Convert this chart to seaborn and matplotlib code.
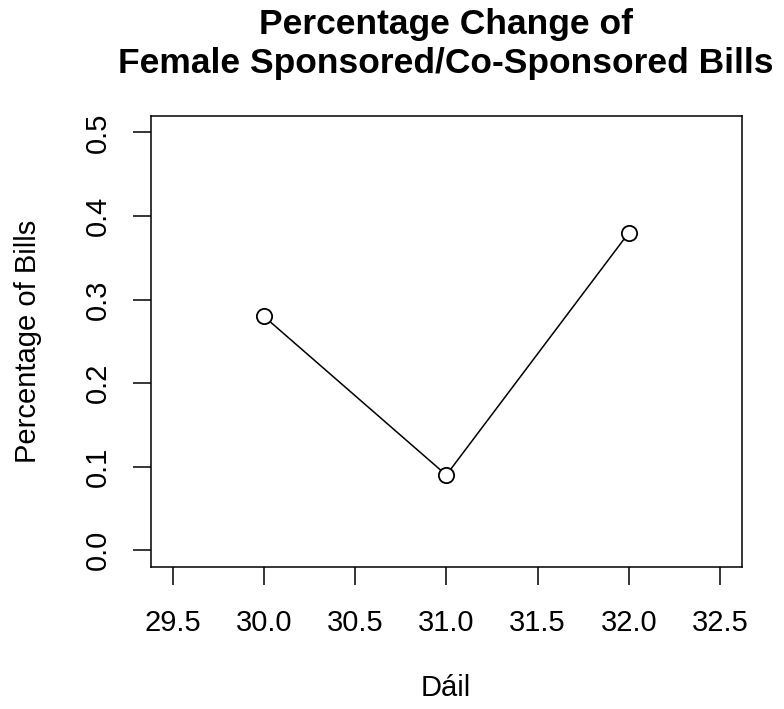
import matplotlib
matplotlib.use("Agg")
import numpy as np
import pandas as pd
import matplotlib.pyplot as plt
import seaborn as sns

dail = [30, 31, 32]
pct_bills = [0.28, 0.09, 0.38]
x_ticks = [29.5, 30.0, 30.5, 31.0, 31.5, 32.0, 32.5]
y_ticks = [0.0, 0.1, 0.2, 0.3, 0.4, 0.5]

df = pd.DataFrame({'Dail': dail, 'Pct': pct_bills})

sns.set_style("ticks")
plt.rcParams['font.family'] = ['Liberation Sans', 'DejaVu Sans']
plt.rcParams['text.color'] = 'black'
plt.rcParams['xtick.color'] = 'black'
plt.rcParams['ytick.color'] = 'black'

fig = plt.figure(figsize=(7.84, 7.09), dpi=100)
ax = fig.add_axes([0.1922, 0.2003, 0.7542, 0.6365])

sns.lineplot(data=df, x='Dail', y='Pct', ax=ax, color='black', linewidth=1.1,
             marker='o', markersize=11, markerfacecolor='white',
             markeredgecolor='black', markeredgewidth=1.3)

ax.set_xlim(29.38, 32.62)
ax.set_ylim(-0.02, 0.52)
ax.set_xticks(x_ticks)
ax.set_xticklabels([f'{t:.1f}' for t in x_ticks], fontsize=21)
ax.set_yticks(y_ticks)
ax.set_yticklabels([f'{t:.1f}' for t in y_ticks], fontsize=21, rotation=90, va='center')
ax.tick_params(axis='both', direction='out', length=13, width=1.1, color='black', labelcolor='black')
ax.tick_params(axis='x', pad=17)
ax.tick_params(axis='y', pad=15)
for s in ax.spines.values():
    s.set_visible(True)
    s.set_linewidth(1.1)
    s.set_color('black')

ax.set_xlabel('')
ax.set_ylabel('')
fig.text(0.569, 0.029, 'Dáil', ha='center', va='center', fontsize=21, color='black')
fig.text(0.036, 0.518, 'Percentage of Bills', ha='center', va='center', fontsize=21, rotation=90, color='black')
fig.text(0.569, 0.966, 'Percentage Change of', ha='center', va='center', fontsize=25.5, fontweight='bold', color='black')
fig.text(0.569, 0.911, 'Female Sponsored/Co-Sponsored Bills', ha='center', va='center', fontsize=25.5, fontweight='bold', color='black')

fig.savefig('out.png', dpi=100, facecolor='white')
